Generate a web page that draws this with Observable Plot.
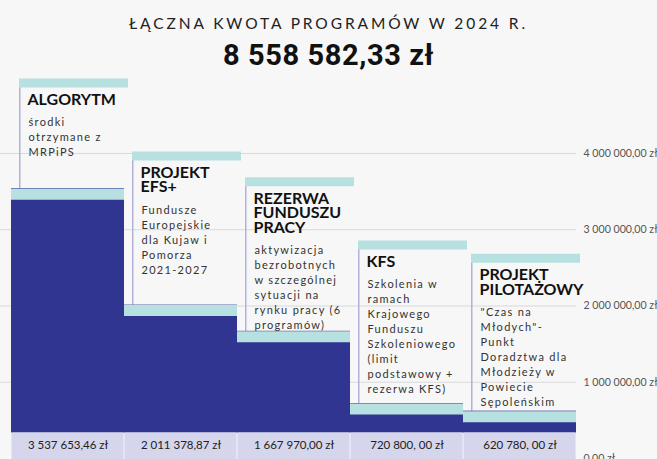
<!DOCTYPE html>
<html lang="pl">
<head>
<meta charset="utf-8">
<script src="https://cdn.jsdelivr.net/npm/d3@7"></script>
<script src="https://cdn.jsdelivr.net/npm/@observablehq/plot@0.6"></script>
<style>
html,body{margin:0;padding:0;background:#ffffff;}
#wrap{position:absolute;left:0;top:0;width:657px;height:459px;background:#f7f7f7;overflow:hidden;}
#head{position:relative;height:72px;}
#t1{position:absolute;left:0;right:0;top:16px;text-align:center;font:400 15.5px/1 Lato, sans-serif;letter-spacing:2.9px;color:#222;}
#t2{position:absolute;left:0;right:0;top:41px;text-align:center;font:700 29px/1 Roboto, sans-serif;letter-spacing:0.6px;color:#111;}
#chart svg{display:block;}
#chart g[font-size="11"] text{letter-spacing:1.3px;}
</style>
</head>
<body>
<div id="wrap">
  <div id="head"><div id="t1"></div><div id="t2"></div></div>
  <div id="chart"></div>
</div>
<script>
// ---- data ----
const titleText = "ŁĄCZNA KWOTA PROGRAMÓW W 2024 R.";
const totalLabel = "8 558 582,33 zł";
const categories = ["ALGORYTM", "PROJEKT EFS+", "REZERWA FUNDUSZU PRACY", "KFS", "PROJEKT PILOTAŻOWY"];
const titles = ["ALGORYTM", "PROJEKT\nEFS+", "REZERWA\nFUNDUSZU\nPRACY", "KFS", "PROJEKT\nPILOTAŻOWY"];
const descriptions = [
  "środki\notrzymane z\nMRPiPS",
  "Fundusze\nEuropejskie\ndla Kujaw i\nPomorza\n2021-2027",
  "aktywizacja\nbezrobotnych\nw szczególnej\nsytuacji na\nrynku pracy (6\nprogramów)",
  "Szkolenia w\nramach\nKrajowego\nFunduszu\nSzkoleniowego\n(limit\npodstawowy +\nrezerwa KFS)",
  "\"Czas na\nMłodych\"-\nPunkt\nDoradztwa dla\nMłodzieży w\nPowiecie\nSępoleńskim"
];
const values = [3537653.46, 2011378.87, 1667970.00, 720800.00, 620780.00];
const valueLabels = ["3 537 653,46 zł", "2 011 378,87 zł", "1 667 970,00 zł", "720 800, 00 zł", "620 780, 00 zł"];
// level (in zł on the y scale) at which each description box starts
const boxLevels = [4984000, 4026000, 3689000, 2859000, 2685000];
const yTicks = [0, 1000000, 2000000, 3000000, 4000000];
const yMax = 5062000;

// ---- build ----
document.getElementById("t1").textContent = titleText;
document.getElementById("t2").textContent = totalLabel;

const data = categories.map((c, i) => ({
  cat: c, title: titles[i], desc: descriptions[i], value: values[i],
  label: valueLabels[i], box: boxLevels[i]
}));

const locale = d3.formatLocale({decimal: ",", thousands: " ", grouping: [3], currency: ["", " zł"]});
const fmt = locale.format(",.2f");

const xLeft = 11, xRight = 576;
const bw = (xRight - xLeft) / categories.length;

const DARK = "#303592", CYAN = "#b7e0e1", LAV = "#b1b1da", CELL = "#d5d5eb";

const boxTexts = data.flatMap(d => {
  const n = d.title.split("\n").length;
  return [
    Plot.text([d], {x: "cat", y: "box", text: "title", textAnchor: "start", lineAnchor: "top",
      dx: -bw / 2 + 16, dy: 16, fontSize: 16, fontWeight: 700, lineHeight: 0.91, fill: "#111",
      fontFamily: "Lato, sans-serif"}),
    Plot.text([d], {x: "cat", y: "box", text: "desc", textAnchor: "start", lineAnchor: "top",
      dx: -bw / 2 + 17, dy: 37.2 + (n - 1) * 14.6, fontSize: 11, lineHeight: 1.364, fill: "#333",
      fontFamily: "Lato, sans-serif"})
  ];
});

const chart = Plot.plot({
  width: 657,
  height: 387,
  marginLeft: 0,
  marginRight: 81,
  marginTop: 0,
  marginBottom: 1,
  style: {background: "transparent", overflow: "visible", fontFamily: "Lato, sans-serif", fontSize: "10.6px", color: "#555"},
  x: {domain: categories, range: [xLeft, xRight], padding: 0, axis: null},
  y: {domain: [0, yMax], axis: "right", ticks: yTicks, tickFormat: v => fmt(v) + " zł",
      tickSize: 0, tickPadding: 7, label: null},
  marks: [
    Plot.ruleY(yTicks.slice(1), {stroke: "#d9d9d9", strokeWidth: 1}),
    // description box: left border + header strip
    Plot.barY(data, {x: "cat", y1: "box", y2: "value", fill: LAV, insetTop: 9, insetLeft: 8, insetRight: bw - 9.5}),
    Plot.tickY(data, {x: "cat", y: "box", stroke: CYAN, strokeWidth: 9, dy: 4.5, insetLeft: 8, insetRight: -4}),
    ...boxTexts,
    // stepped bars
    Plot.barY(data, {x: "cat", y: "value", fill: DARK}),
    Plot.tickY(data, {x: "cat", y: "value", stroke: CYAN, strokeWidth: 11, dy: 5.5}),
    // value cells at the bottom
    Plot.tickY(data, {x: "cat", y: () => 0, stroke: "#e8e8f5", strokeWidth: 27, dy: -12.5}),
    Plot.tickY(data, {x: "cat", y: () => 0, stroke: CELL, strokeWidth: 27, dy: -12.5, insetLeft: 0.75, insetRight: 0.75}),
    Plot.text(data, {x: "cat", y: () => 0, text: "label", dy: -13, fontSize: 11.5, fill: "#222",
      fontFamily: "Lato, sans-serif"})
  ]
});
document.getElementById("chart").appendChild(chart);
</script>
</body>
</html>
